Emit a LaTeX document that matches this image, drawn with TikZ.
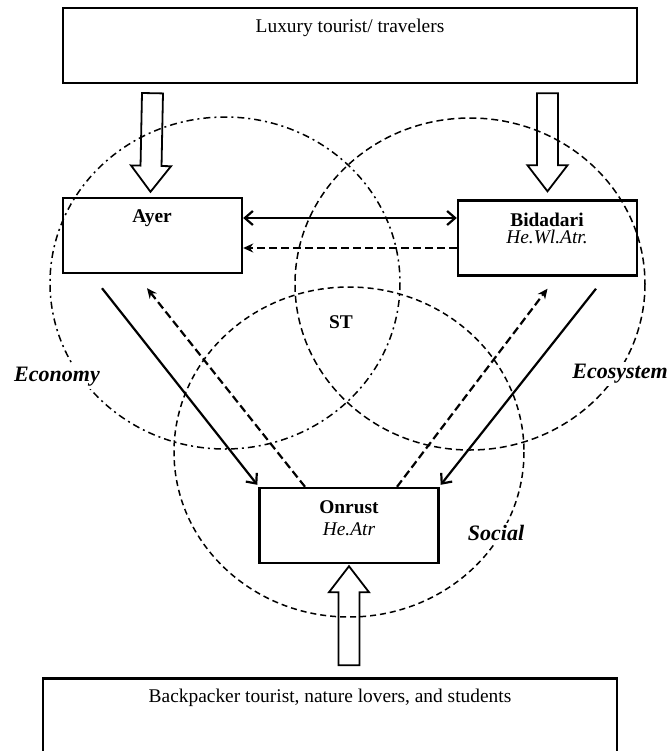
\documentclass[tikz,border=0pt]{standalone}
\usepackage{fontspec}
\setmainfont{Liberation Serif}
\usetikzlibrary{arrows.meta,calc}

\tikzset{
  group/.style={draw,line width=1.2pt,minimum width=287pt,minimum height=37.5pt,inner sep=0pt},
  site/.style={draw,line width=1.2pt,minimum width=89.5pt,minimum height=37.5pt,inner sep=0pt},
  boxtext/.style={inner sep=0pt,font=\fontsize{9.7}{11}\selectfont},
  sector/.style={fill=white,inner sep=1pt,font=\fontsize{11}{13}\selectfont\bfseries\itshape},
  economyring/.style={line width=0.75pt,dash pattern=on 3.5pt off 2pt on 1pt off 2pt},
  ecoring/.style={line width=0.75pt,dash pattern=on 3.5pt off 2pt},
  socialring/.style={line width=0.75pt,dash pattern=on 3pt off 2pt},
  barb/.tip={Straight Barb[length=4pt,width=7pt]},
  realflow/.style={line width=1.1pt,-barb},
  backflow/.style={line width=1.1pt,dash pattern=on 4pt off 2pt,-{Stealth[length=5pt,width=4.5pt]}},
  hollow/.style={line width=0.9pt}
}

% block arrow from #1 (tail) to #2 (tip)
\newcommand{\hollowarrow}[2]{%
  \coordinate (hb) at ($(#2)!13pt!(#1)$);
  \draw[hollow] ($(#1)!5.25pt!90:(#2)$) -- ($(hb)!5.25pt!90:(#2)$) -- ($(hb)!10pt!90:(#2)$) -- (#2)
    -- ($(hb)!10pt!-90:(#2)$) -- ($(hb)!5.25pt!-90:(#2)$) -- ($(#1)!5.25pt!-90:(#2)$) -- cycle;}

\begin{document}
\begin{tikzpicture}[x=0.5pt,y=-0.5pt]
\useasboundingbox (0,0) rectangle (669,751);
%rings
\draw[economyring] (225,283) ellipse [x radius=175,y radius=166];
\draw[ecoring] (470,284) ellipse [x radius=175,y radius=166];
\draw[socialring] (349,452) ellipse [x radius=175,y radius=165];
%boxes
\node[group] (lux) at (350,45.5) {};
\node[site] (ayer) at (152.5,235.5) {};
\node[site] (bid) at (547.5,238) {};
\node[site] (onr) at (349,525.5) {};
\node[group] (back) at (330,716) {};
%text
\node[boxtext] (luxname) at (350,28) {Luxury tourist/ travelers};
\node[boxtext] (ayername) at (152,218) {\textbf{Ayer}};
\node[boxtext] (bidname) at (547,220) {\textbf{Bidadari}};
\node[boxtext] (bidattr) at (547,237) {\textit{He.Wl.Atr.}};
\node[boxtext] (onrname) at (349,507) {\textbf{Onrust}};
\node[boxtext] (onrattr) at (349,529) {\textit{He.Atr}};
\node[boxtext] (backname) at (330,698) {Backpacker tourist, nature lovers, and students};
\node[boxtext] (st) at (341,322) {\textbf{ST}};
\node[sector] (economy) at (57,377) {Economy};
\node[sector] (ecosystem) at (620,374) {Ecosystem};
\node[sector] (social) at (496,533) {Social};
%visitors
\hollowarrow{$(lux.south -| ayer.north)+(0,9)$}{$(ayer.north)+(-2,-5)$}
\hollowarrow{$(lux.south -| bid.north)+(0,9)$}{$(bid.north)+(0,-8)$}
\hollowarrow{$(back.north -| onr.south)+(0,-12)$}{$(onr.south)+(0,2)$}
%flows
\draw[realflow,barb-barb] ([yshift=8.75pt]ayer.east) -- ([yshift=8.75pt]ayer.east -| bid.west);
\draw[backflow] ([yshift=-6.25pt]ayer.east -| bid.west) -- ([yshift=-6.25pt]ayer.east);
\draw[realflow] ($(ayer.south)+(-50.5,14)$) -- ($(onr.north west)+(-1,-2)$);
\draw[backflow] ($(onr.north)+(-44,0)$) -- ($(ayer.south)+(-5.5,14)$);
\draw[backflow] ($(onr.north)+(48,0)$) -- ($(bid.south)+(0,12)$);
\draw[realflow] ($(bid.south)+(48.5,12)$) -- ($(onr.north east)+(1,-2)$);
\end{tikzpicture}
\end{document}
